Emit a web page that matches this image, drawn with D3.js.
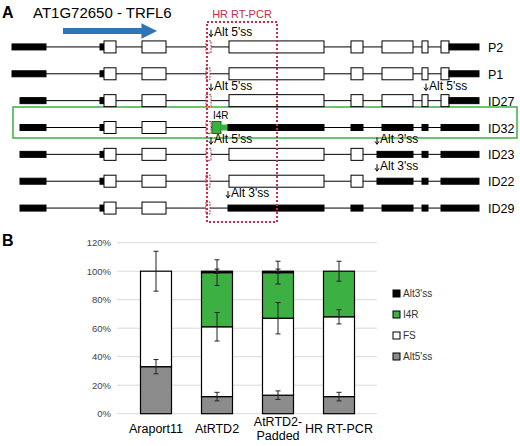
<!DOCTYPE html><html><head><meta charset="utf-8"><script src="https://cdn.jsdelivr.net/npm/d3@7"></script>
<style>body{margin:0;background:#fff}text{font-family:Arial,"Liberation Sans",sans-serif}</style></head><body><svg id="c" width="520" height="446"></svg><script>
// Panel A data: transcripts, exon segments [start,end,type] (genomic units)
const transcripts=["P2","P1","ID27","ID32","ID23","ID22","ID29"];
const startPos=[12,12,20,20,20,20,20];
const W="w",B="b",R="r",G="g",g="gs",U="u";
const exonSets=[
 [[12,46,U],[100,104,U],[104,116,W],[142,166,W],[206,211,R],[229,324,W],[351,363,W],[382,413,W],[422,428,W],[441,449,W],[449,479,U]],
 [[12,46,U],[100,104,U],[104,116,W],[142,166,W],[206,210,R],[229,324,W],[351,363,W],[382,413,W],[422,428,W],[441,449,W],[449,479,U]],
 [[20,46,U],[100,104,U],[104,116,W],[142,166,W],[206,211,R],[229,324,W],[351,363,W],[382,413,W],[422,428,W],[441,449,W],[449,479,U]],
 [[20,46,U],[100,104,U],[104,116,W],[142,166,W],[206,211,R],[212,221,G],[221,228,g],[228,324,U],[351,363,U],[382,413,U],[422,428,U],[441,479,U]],
 [[20,46,U],[100,104,U],[104,116,W],[142,166,W],[206,211,R],[229,324,W],[351,363,W],[377,413,U],[422,428,U],[441,479,U]],
 [[20,46,U],[100,104,U],[104,116,W],[142,166,W],[206,210,R],[229,324,W],[351,363,W],[377,413,U],[422,428,U],[441,479,U]],
 [[20,46,U],[100,104,U],[104,116,W],[142,166,W],[206,210,R],[228,324,U],[351,363,U],[382,413,U],[422,428,U],[441,479,U]]
];
const notes=[[0,"Alt 5'ss",211],[2,"Alt 5'ss",211],[2,"Alt 5'ss",426],[4,"Alt 5'ss",211],[4,"Alt 3'ss",377],[5,"Alt 3'ss",377],[6,"Alt 3'ss",228]];
// Panel B data
const categories=["Araport11","AtRTD2","AtRTD2-Padded","HR RT-PCR"];
const seriesNames=["Alt5'ss","FS","I4R","Alt3'ss"];
const alt5=[0.33,0.12,0.13,0.12];
const fs=[0.67,0.49,0.54,0.56];
const i4r=[0,0.38,0.32,0.32];
const alt3=[0,0.01,0.01,0];
const errAlt5=[0.05,0.03,0.03,0.03];
const errFS=[0.14,0.10,0.11,0.05];
const errI4R=[0,0.09,0.08,0.07];
const errAlt3=[0,0.015,0.015,0];
const yTicks=[0,0.2,0.4,0.6,0.8,1.0,1.2];

const svg=d3.select("#c");
// ---- Panel A
svg.append("text").attr("x",2).attr("y",18).attr("font-size",16).attr("font-weight","bold").text("A");
svg.append("text").attr("x",33).attr("y",18).attr("font-size",15).text("AT1G72650 - TRFL6");
svg.append("defs").append("marker").attr("id","ah").attr("viewBox","0 0 10 10").attr("refX",1).attr("refY",5)
 .attr("markerWidth",2.6).attr("markerHeight",2.6).attr("orient","auto").append("path").attr("d","M0,0L10,5L0,10z").attr("fill","#2e75b6");
svg.append("line").attr("x1",63).attr("x2",143).attr("y1",31).attr("y2",31).attr("stroke","#2e75b6").attr("stroke-width",6).attr("marker-end","url(#ah)");
const gx=d3.scaleLinear().domain([0,500]).range([0,500]);
const ry=d3.scaleBand().domain(transcripts).range([33.5,221.5]);
svg.append("rect").attr("x",13).attr("y",107).attr("width",504).attr("height",31).attr("fill","none").attr("stroke","#3cb043").attr("stroke-width",1.5);
transcripts.forEach((t,i)=>{
 const y=ry(t)+ry.bandwidth()/2;
 svg.append("line").attr("x1",gx(startPos[i])).attr("x2",gx(479)).attr("y1",y).attr("y2",y).attr("stroke","#000").attr("stroke-width",1);
 exonSets[i].forEach(([s,e,tp])=>{
  let h=12,fill="#fff",st="#000";
  if(tp===U){h=6;fill="#000";}
  if(tp===R){fill="#fff";st="#c0304a";}
  if(tp===G){fill="#3cb043";st="#1a6e22";}
  if(tp===g){h=5;fill="#3cb043";st="#3cb043";}
  svg.append("rect").attr("x",gx(s)).attr("y",y-h/2).attr("width",gx(e)-gx(s)).attr("height",h).attr("fill",fill).attr("stroke",st).attr("stroke-width",1).attr("stroke-dasharray",tp===R?"2,1":null);
 });
 svg.append("text").attr("x",488).attr("y",y+5).attr("font-size",12.5).text(t);
});
notes.forEach(([r,t,x])=>{
 const y=ry(transcripts[r])+ry.bandwidth()/2-10;
 svg.append("path").attr("d",`M${gx(x)},${y-7}V${y-1}M${gx(x)-2},${y-3}L${gx(x)},${y}L${gx(x)+2},${y-3}`).attr("stroke","#000").attr("fill","none").attr("stroke-width",1);
 svg.append("text").attr("x",gx(x)+3).attr("y",y-1).attr("font-size",12).text(t);
});
svg.append("text").attr("x",213).attr("y",119).attr("font-size",10).text("I4R");
svg.append("rect").attr("x",207).attr("y",22).attr("width",70).attr("height",200).attr("fill","none").attr("stroke","#c0304a").attr("stroke-width",2).attr("stroke-dasharray","2,2");
svg.append("text").attr("x",242).attr("y",18).attr("font-size",11).attr("fill","#c0304a").attr("text-anchor","middle").text("HR RT-PCR");
// ---- Panel B
svg.append("text").attr("x",2).attr("y",246).attr("font-size",16).attr("font-weight","bold").text("B");
const y=d3.scaleLinear().domain([0,1.2]).range([413.7,242.7]);
const x=d3.scaleBand().domain(categories).range([125.5,369.5]).paddingInner(0.5).paddingOuter(0.25);
const gb=svg.append("g");
yTicks.forEach(v=>{
 gb.append("line").attr("x1",117).attr("x2",377).attr("y1",y(v)).attr("y2",y(v)).attr("stroke","#d9d9d9");
 gb.append("text").attr("x",111).attr("y",y(v)+3.5).attr("font-size",9.5).attr("fill","#444").attr("text-anchor","end").text(d3.format(".0%")(v));
});
const colors=["#8c8c8c","#ffffff","#3cb043","#000000"];
const vals=[alt5,fs,i4r,alt3], errs=[errAlt5,errFS,errI4R,errAlt3];
const bw=31;
categories.forEach((c,i)=>{
 let base=0; const cx=x(c)+x.bandwidth()/2;
 const tops=[];
 vals.forEach((arr,k)=>{
  const v=arr[i]; if(v<=0){tops.push(null);return;}
  gb.append("rect").attr("x",cx-bw/2).attr("y",y(base+v)).attr("width",bw).attr("height",y(base)-y(base+v)).attr("fill",colors[k]).attr("stroke","#000").attr("stroke-width",1.2);
  base+=v; tops.push(base);
 });
 tops.forEach((t,k)=>{
  if(t===null)return; const e=errs[k][i]; if(!e)return;
  gb.append("path").attr("d",`M${cx},${y(t-e)}V${y(t+e)}M${cx-2.5},${y(t-e)}H${cx+2.5}M${cx-2.5},${y(t+e)}H${cx+2.5}`).attr("stroke","#222").attr("fill","none").attr("stroke-width",1);
 });
 const parts=c==="AtRTD2-Padded"?["AtRTD2-","Padded"]:[c];
 parts.forEach((p,j)=>gb.append("text").attr("x",cx).attr("y",433+j*14-(parts.length>1?7:0)).attr("font-size",12.5).attr("text-anchor","middle").text(p));
});
[3,2,1,0].forEach((k,j)=>{
 const ly=297+j*21;
 gb.append("rect").attr("x",393).attr("y",ly-7).attr("width",7).attr("height",7).attr("fill",colors[k]).attr("stroke","#000");
 gb.append("text").attr("x",403).attr("y",ly).attr("font-size",10).attr("fill","#333").text(seriesNames[k]);
});
</script></body></html>
